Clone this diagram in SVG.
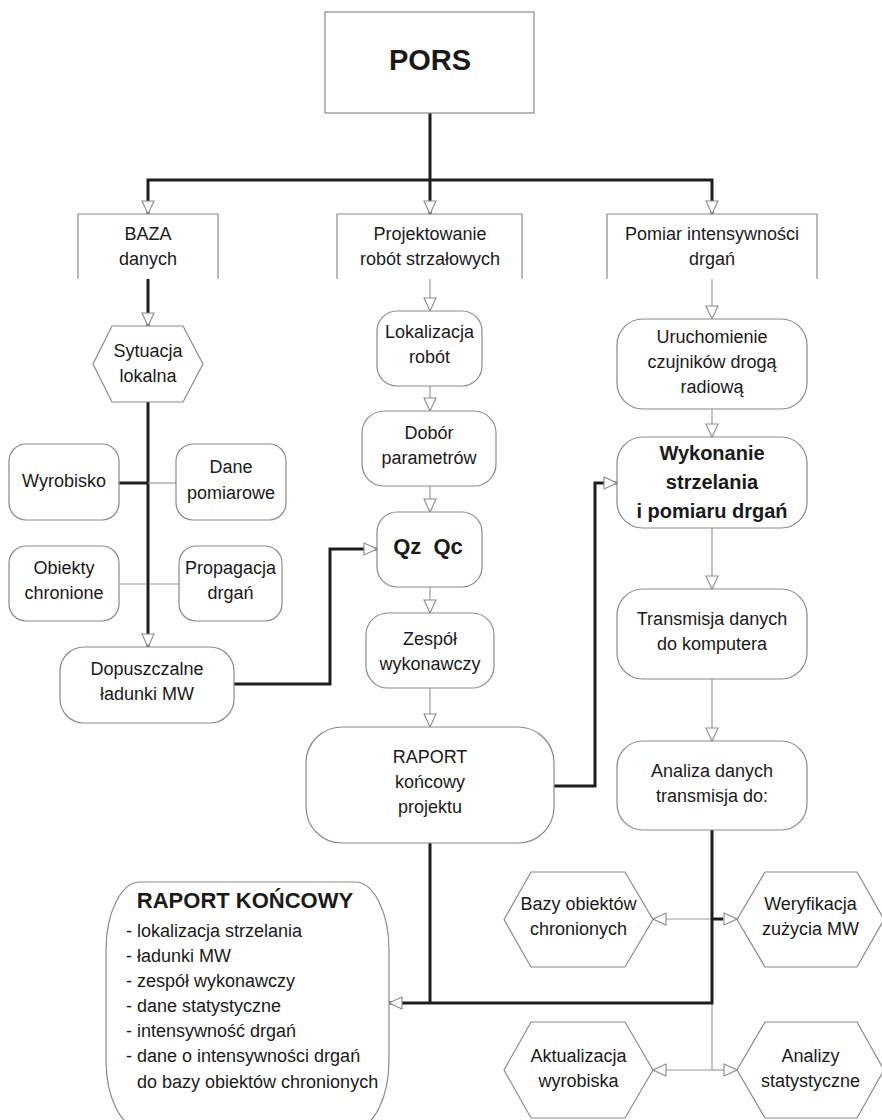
<svg xmlns="http://www.w3.org/2000/svg" width="882" height="1120" viewBox="0 0 882 1120">
<style>
  .nd { fill: #fff; stroke: #8a8a8a; stroke-width: 1.2; }
  .hd { fill: none; stroke: #8a8a8a; stroke-width: 1.2; }
  .t { font-family: "Liberation Sans", Arial, sans-serif; font-size: 18px; fill: #1a1a1a; text-anchor: middle; }
  .tl { font-family: "Liberation Sans", Arial, sans-serif; font-size: 18px; fill: #1a1a1a; }
  .b { font-weight: bold; }
  .thick { fill: none; stroke: #1e1e1e; stroke-width: 3; }
  .thin { fill: none; stroke: #9a9a9a; stroke-width: 1.2; }
</style>
<defs>
  <marker id="ah" markerUnits="userSpaceOnUse" viewBox="0 0 15 15" markerWidth="15" markerHeight="15" refX="14" refY="7.5" orient="auto">
    <path d="M1,1.5 L14,7.5 L1,13.5 Z" fill="#fff" stroke="#8a8a8a" stroke-width="1.1"/>
  </marker>
</defs>
<rect width="882" height="1120" fill="#fff"/>

<g id="connectors">
  <path class="thick" d="M430,113 V214" marker-end="url(#ah)"/>
  <path class="thick" d="M430,180 H148 V214" marker-end="url(#ah)"/>
  <path class="thick" d="M430,180 H712 V214" marker-end="url(#ah)"/>
  <path class="thick" d="M148,279 V326" marker-end="url(#ah)"/>
  <path class="thin" d="M430,279 V311" marker-end="url(#ah)"/>
  <path class="thin" d="M712,279 V319" marker-end="url(#ah)"/>
  <path class="thick" d="M148,402 V647" marker-end="url(#ah)"/>
  <path class="thick" d="M119,483 H148"/>
  <path class="thin" d="M148,483 H176"/>
  <path class="thin" d="M119,584 H146.5 M149.5,584 H179"/>
  <path class="thick" d="M234,684 H330 V549 H377" marker-end="url(#ah)"/>
  <path class="thin" d="M430,386 V411" marker-end="url(#ah)"/>
  <path class="thin" d="M430,486 V512" marker-end="url(#ah)"/>
  <path class="thin" d="M430,587 V613" marker-end="url(#ah)"/>
  <path class="thin" d="M430,688 V727" marker-end="url(#ah)"/>
  <path class="thick" d="M554,786 H595 V483 H617" marker-end="url(#ah)"/>
  <path class="thin" d="M712,409 V437" marker-end="url(#ah)"/>
  <path class="thin" d="M712,528 V589" marker-end="url(#ah)"/>
  <path class="thin" d="M712,679 V741" marker-end="url(#ah)"/>
  <path class="thin" d="M712,1003 V1070"/>
  <path class="thin" d="M712,919 H653" marker-end="url(#ah)"/>
  <path class="thin" d="M712,919 H737" marker-end="url(#ah)"/>
  <path class="thick" d="M711,919 H723"/>
  <path class="thin" d="M712,1070 H653" marker-end="url(#ah)"/>
  <path class="thin" d="M712,1070 H737" marker-end="url(#ah)"/>
  <path class="thick" d="M430,843 V1003"/>
  <path class="thick" d="M712,830 V1003 H389" marker-end="url(#ah)"/>
</g>

<g id="pors">
  <rect class="nd" x="325" y="12" width="209" height="101"/>
  <text class="t b" x="430" y="70" style="font-size:29px">PORS</text>
</g>

<g id="baza">
  <path class="hd" d="M78,279 V214 H218 V279"/>
  <text class="t" x="148" y="240">BAZA</text>
  <text class="t" x="148" y="265">danych</text>
</g>
<g id="projektowanie">
  <path class="hd" d="M337,279 V214 H522 V279"/>
  <text class="t" x="430" y="240">Projektowanie</text>
  <text class="t" x="430" y="265">robót strzałowych</text>
</g>
<g id="pomiar">
  <path class="hd" d="M607,279 V214 H817 V279"/>
  <text class="t" x="712" y="240">Pomiar intensywności</text>
  <text class="t" x="712" y="265">drgań</text>
</g>

<g id="sytuacja">
  <polygon class="nd" points="112,326 183,326 203,364 183,402 112,402 93,364"/>
  <text class="t" x="148" y="357">Sytuacja</text>
  <text class="t" x="148" y="382">lokalna</text>
</g>
<g id="wyrobisko">
  <rect class="nd" x="9" y="444" width="110" height="76" rx="17"/>
  <text class="t" x="64" y="487">Wyrobisko</text>
</g>
<g id="dane-pomiarowe">
  <rect class="nd" x="176" y="444" width="110" height="76" rx="17"/>
  <text class="t" x="231" y="473">Dane</text>
  <text class="t" x="231" y="499">pomiarowe</text>
</g>
<g id="obiekty">
  <rect class="nd" x="9" y="546" width="110" height="75" rx="17"/>
  <text class="t" x="64" y="574">Obiekty</text>
  <text class="t" x="64" y="599">chronione</text>
</g>
<g id="propagacja">
  <rect class="nd" x="179" y="546" width="103" height="75" rx="17"/>
  <text class="t" x="230.5" y="574">Propagacja</text>
  <text class="t" x="230.5" y="599">drgań</text>
</g>
<g id="dopuszczalne">
  <rect class="nd" x="60" y="647" width="174" height="76" rx="24"/>
  <text class="t" x="147" y="675">Dopuszczalne</text>
  <text class="t" x="147" y="700">ładunki MW</text>
</g>

<g id="lokalizacja">
  <rect class="nd" x="377" y="311" width="105" height="75" rx="20"/>
  <text class="t" x="429.5" y="338">Lokalizacja</text>
  <text class="t" x="429.5" y="363">robót</text>
</g>
<g id="dobor">
  <rect class="nd" x="362" y="411" width="134" height="75" rx="22"/>
  <text class="t" x="429" y="439">Dobór</text>
  <text class="t" x="429" y="464">parametrów</text>
</g>
<g id="qzqc">
  <rect class="nd" x="377" y="512" width="105" height="75" rx="20"/>
  <text class="t b" x="428" y="554" style="font-size:22px" xml:space="preserve">Qz  Qc</text>
</g>
<g id="zespol">
  <rect class="nd" x="366" y="613" width="128" height="75" rx="22"/>
  <text class="t" x="430" y="645">Zespół</text>
  <text class="t" x="430" y="670">wykonawczy</text>
</g>
<g id="raport-projektu">
  <rect class="nd" x="306" y="727" width="248" height="116" rx="36"/>
  <text class="t" x="430" y="763">RAPORT</text>
  <text class="t" x="430" y="788">końcowy</text>
  <text class="t" x="430" y="813">projektu</text>
</g>

<g id="uruchomienie">
  <rect class="nd" x="617" y="319" width="190" height="90" rx="26"/>
  <text class="t" x="712" y="343">Uruchomienie</text>
  <text class="t" x="712" y="368">czujników drogą</text>
  <text class="t" x="712" y="393">radiową</text>
</g>
<g id="wykonanie">
  <rect class="nd" x="617" y="437" width="190" height="91" rx="26"/>
  <text class="t b" x="712" y="460" style="font-size:20px">Wykonanie</text>
  <text class="t b" x="712" y="489" style="font-size:20px">strzelania</text>
  <text class="t b" x="712" y="518" style="font-size:20px">i pomiaru drgań</text>
</g>
<g id="transmisja">
  <rect class="nd" x="617" y="589" width="190" height="90" rx="26"/>
  <text class="t" x="712" y="625">Transmisja danych</text>
  <text class="t" x="712" y="650">do komputera</text>
</g>
<g id="analiza">
  <rect class="nd" x="617" y="741" width="190" height="89" rx="26"/>
  <text class="t" x="712" y="777">Analiza danych</text>
  <text class="t" x="712" y="802">transmisja do:</text>
</g>

<g id="bazy-obiektow">
  <polygon class="nd" points="531,872 625,872 653,919.5 625,967 531,967 504,919.5"/>
  <text class="t" x="578.5" y="910">Bazy obiektów</text>
  <text class="t" x="578.5" y="935">chronionych</text>
</g>
<g id="weryfikacja">
  <polygon class="nd" points="765,872 857,872 884,919.5 857,967 765,967 737,919.5"/>
  <text class="t" x="810.5" y="910">Weryfikacja</text>
  <text class="t" x="810.5" y="935">zużycia MW</text>
</g>
<g id="aktualizacja">
  <polygon class="nd" points="531,1022 625,1022 653,1070 625,1118 531,1118 504,1070"/>
  <text class="t" x="578.5" y="1062">Aktualizacja</text>
  <text class="t" x="578.5" y="1087">wyrobiska</text>
</g>
<g id="analizy">
  <polygon class="nd" points="765,1022 857,1022 884,1070 857,1118 765,1118 737,1070"/>
  <text class="t" x="810.5" y="1062">Analizy</text>
  <text class="t" x="810.5" y="1087">statystyczne</text>
</g>

<g id="raport-koncowy">
  <rect class="nd" x="106" y="882" width="283" height="246" rx="34" ry="68"/>
  <text class="t b" x="245" y="908" style="font-size:22px">RAPORT KOŃCOWY</text>
  <text class="tl" x="126" y="937">- lokalizacja strzelania</text>
  <text class="tl" x="126" y="962">- ładunki MW</text>
  <text class="tl" x="126" y="987">- zespół wykonawczy</text>
  <text class="tl" x="126" y="1012">- dane statystyczne</text>
  <text class="tl" x="126" y="1037">- intensywność drgań</text>
  <text class="tl" x="126" y="1062">- dane o intensywności drgań</text>
  <text class="tl" x="137" y="1088">do bazy obiektów chronionych</text>
</g>
</svg>
